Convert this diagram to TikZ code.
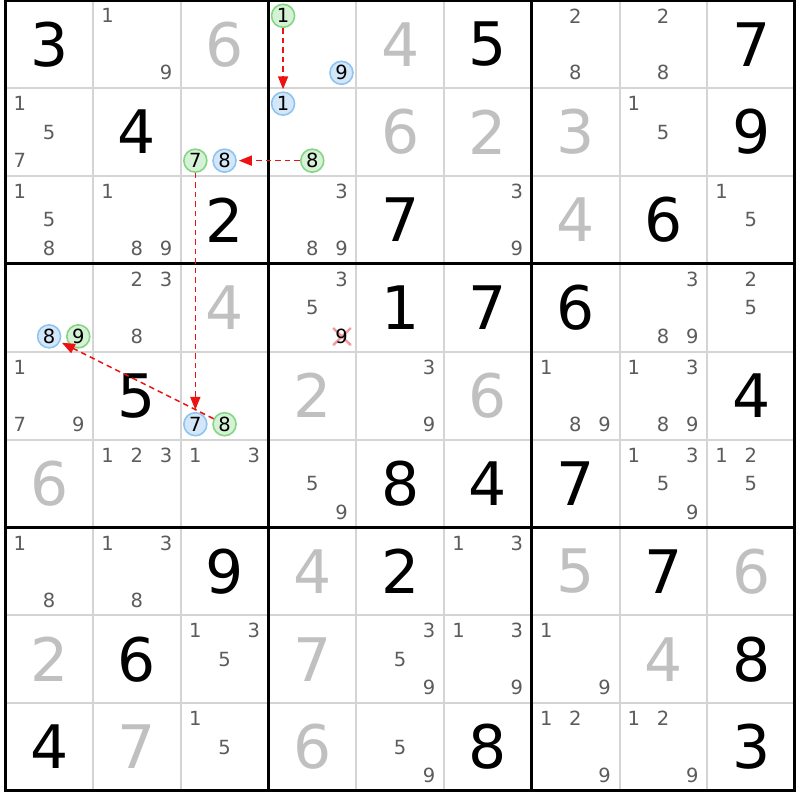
\documentclass[tikz,border=0pt]{standalone}
\usepackage{fontspec}
\setmainfont{DejaVu Sans}
\usetikzlibrary{arrows.meta}
\definecolor{gridgrey}{HTML}{D4D4D4}
\definecolor{candgrey}{HTML}{5C5C5C}
\definecolor{solvedgrey}{HTML}{C0C0C0}
\definecolor{bluefill}{HTML}{D4E7F8}
\definecolor{blueline}{HTML}{8EC4F2}
\definecolor{greenfill}{HTML}{D6F2D6}
\definecolor{greenline}{HTML}{84D684}
\definecolor{chainred}{HTML}{EE1111}
\definecolor{crossred}{HTML}{F29AA0}
\newcommand\cellat[2]{({5.5+(#2-0.5)*87.72},{0.3+(#1-0.5)*87.85})}
\newcommand\candat[3]{({5.5+(#2-1)*87.72+14.4+mod(#3-1,3)*29.2},{0.3+(#1-1)*87.85+15.5+floor((#3-1)/3)*28.5})}
\newcommand\sgiven[3]{\node[givenbox] (n#1#2) at \cellat{#1}{#2} {#3};}
\newcommand\ssolved[3]{\node[solvedbox] (n#1#2) at \cellat{#1}{#2} {#3};}
\newcommand\scands[3]{\foreach \dd in {#3}{\node[cand] (k#1#2\dd) at \candat{#1}{#2}{\dd} {\dd};}}
\newcommand\scirc[4]{\node[#4circ] (#4#1#2#3) at \candat{#1}{#2}{#3} {#3};}
\begin{document}
\begin{tikzpicture}[x=1pt,y=-1pt,
  givenbox/.style={inner sep=0pt, font=\fontsize{60}{60}\selectfont, text=black},
  solvedbox/.style={givenbox, text=solvedgrey},
  cand/.style={inner sep=0pt, font=\fontsize{19.5}{19.5}\selectfont, text=candgrey},
  circbase/.style={circle, line width=1.6pt, minimum size=23pt, inner sep=0pt, text=black, font=\fontsize{19.5}{19.5}\selectfont},
  bluecirc/.style={circbase, draw=blueline, fill=bluefill},
  greencirc/.style={circbase, draw=greenline, fill=greenfill},
  chain/.style={draw=chainred, line width=1.5pt, dash pattern=on 5.5pt off 4pt, -{Triangle[length=13pt,width=10pt]}, shorten >=2pt},
  thinline/.style={draw=gridgrey, line width=2pt},
  thickline/.style={draw=black, line width=3pt},
  crossmark/.style={draw=crossred, line width=2.4pt, line cap=round}]
\useasboundingbox (0,0) rectangle (800,800);
\fill[white] (0,0) rectangle (800,800);
% thin grid lines
\foreach \i in {1,2,4,5,7,8}{
  \draw[thinline] ({5.5+\i*87.72},0.3) -- ({5.5+\i*87.72},{0.3+9*87.85});
  \draw[thinline] (5.5,{0.3+\i*87.85}) -- ({5.5+9*87.72},{0.3+\i*87.85});
}
% thick grid lines
\foreach \i in {0,3,6,9}{
  \draw[thickline] ({5.5+\i*87.72},-1.2) -- ({5.5+\i*87.72},{1.8+9*87.85});
  \draw[thickline] (4,{0.3+\i*87.85}) -- ({7+9*87.72},{0.3+\i*87.85});
}
% row 1
\sgiven{1}{1}{3} \scands{1}{2}{1,9} \ssolved{1}{3}{6}
\scirc{1}{4}{1}{green} \scirc{1}{4}{9}{blue}
\ssolved{1}{5}{4} \sgiven{1}{6}{5} \scands{1}{7}{2,8} \scands{1}{8}{2,8} \sgiven{1}{9}{7}
% row 2
\scands{2}{1}{1,5,7} \sgiven{2}{2}{4}
\scirc{2}{3}{7}{green} \scirc{2}{3}{8}{blue}
\scirc{2}{4}{1}{blue} \scirc{2}{4}{8}{green}
\ssolved{2}{5}{6} \ssolved{2}{6}{2} \ssolved{2}{7}{3} \scands{2}{8}{1,5} \sgiven{2}{9}{9}
% row 3
\scands{3}{1}{1,5,8} \scands{3}{2}{1,8,9} \sgiven{3}{3}{2} \scands{3}{4}{3,8,9}
\sgiven{3}{5}{7} \scands{3}{6}{3,9} \ssolved{3}{7}{4} \sgiven{3}{8}{6} \scands{3}{9}{1,5}
% row 4
\scirc{4}{1}{8}{blue} \scirc{4}{1}{9}{green}
\scands{4}{2}{2,3,8} \ssolved{4}{3}{4} \scands{4}{4}{3,5}
\coordinate (x449) at (341.46,336.35);
\draw[crossmark] (333.46,328.35) -- (350.46,344.85);
\draw[crossmark] (333.46,344.85) -- (350.46,328.35);
\node[cand, text=black] (k449) at (x449) {9};
\sgiven{4}{5}{1} \sgiven{4}{6}{7} \sgiven{4}{7}{6} \scands{4}{8}{3,8,9} \scands{4}{9}{2,5}
% row 5
\scands{5}{1}{1,7,9} \sgiven{5}{2}{5}
\scirc{5}{3}{7}{blue} \scirc{5}{3}{8}{green}
\ssolved{5}{4}{2} \scands{5}{5}{3,9} \ssolved{5}{6}{6} \scands{5}{7}{1,8,9} \scands{5}{8}{1,3,8,9} \sgiven{5}{9}{4}
% row 6
\ssolved{6}{1}{6} \scands{6}{2}{1,2,3} \scands{6}{3}{1,3} \scands{6}{4}{5,9}
\sgiven{6}{5}{8} \sgiven{6}{6}{4} \sgiven{6}{7}{7} \scands{6}{8}{1,3,5,9} \scands{6}{9}{1,2,5}
% row 7
\scands{7}{1}{1,8} \scands{7}{2}{1,3,8} \sgiven{7}{3}{9} \ssolved{7}{4}{4} \sgiven{7}{5}{2}
\scands{7}{6}{1,3} \ssolved{7}{7}{5} \sgiven{7}{8}{7} \ssolved{7}{9}{6}
% row 8
\ssolved{8}{1}{2} \sgiven{8}{2}{6} \scands{8}{3}{1,3,5} \ssolved{8}{4}{7} \scands{8}{5}{3,5,9}
\scands{8}{6}{1,3,9} \scands{8}{7}{1,9} \ssolved{8}{8}{4} \sgiven{8}{9}{8}
% row 9
\sgiven{9}{1}{4} \ssolved{9}{2}{7} \scands{9}{3}{1,5} \ssolved{9}{4}{6} \scands{9}{5}{5,9}
\sgiven{9}{6}{8} \scands{9}{7}{1,2,9} \scands{9}{8}{1,2,9} \sgiven{9}{9}{3}
% chain
\draw[chain] (green141) -- (blue241);
\draw[chain] (green248) -- (blue238);
\draw[chain] (green237) -- (blue537);
\draw[chain] (green538) -- (blue418);
\end{tikzpicture}
\end{document}
